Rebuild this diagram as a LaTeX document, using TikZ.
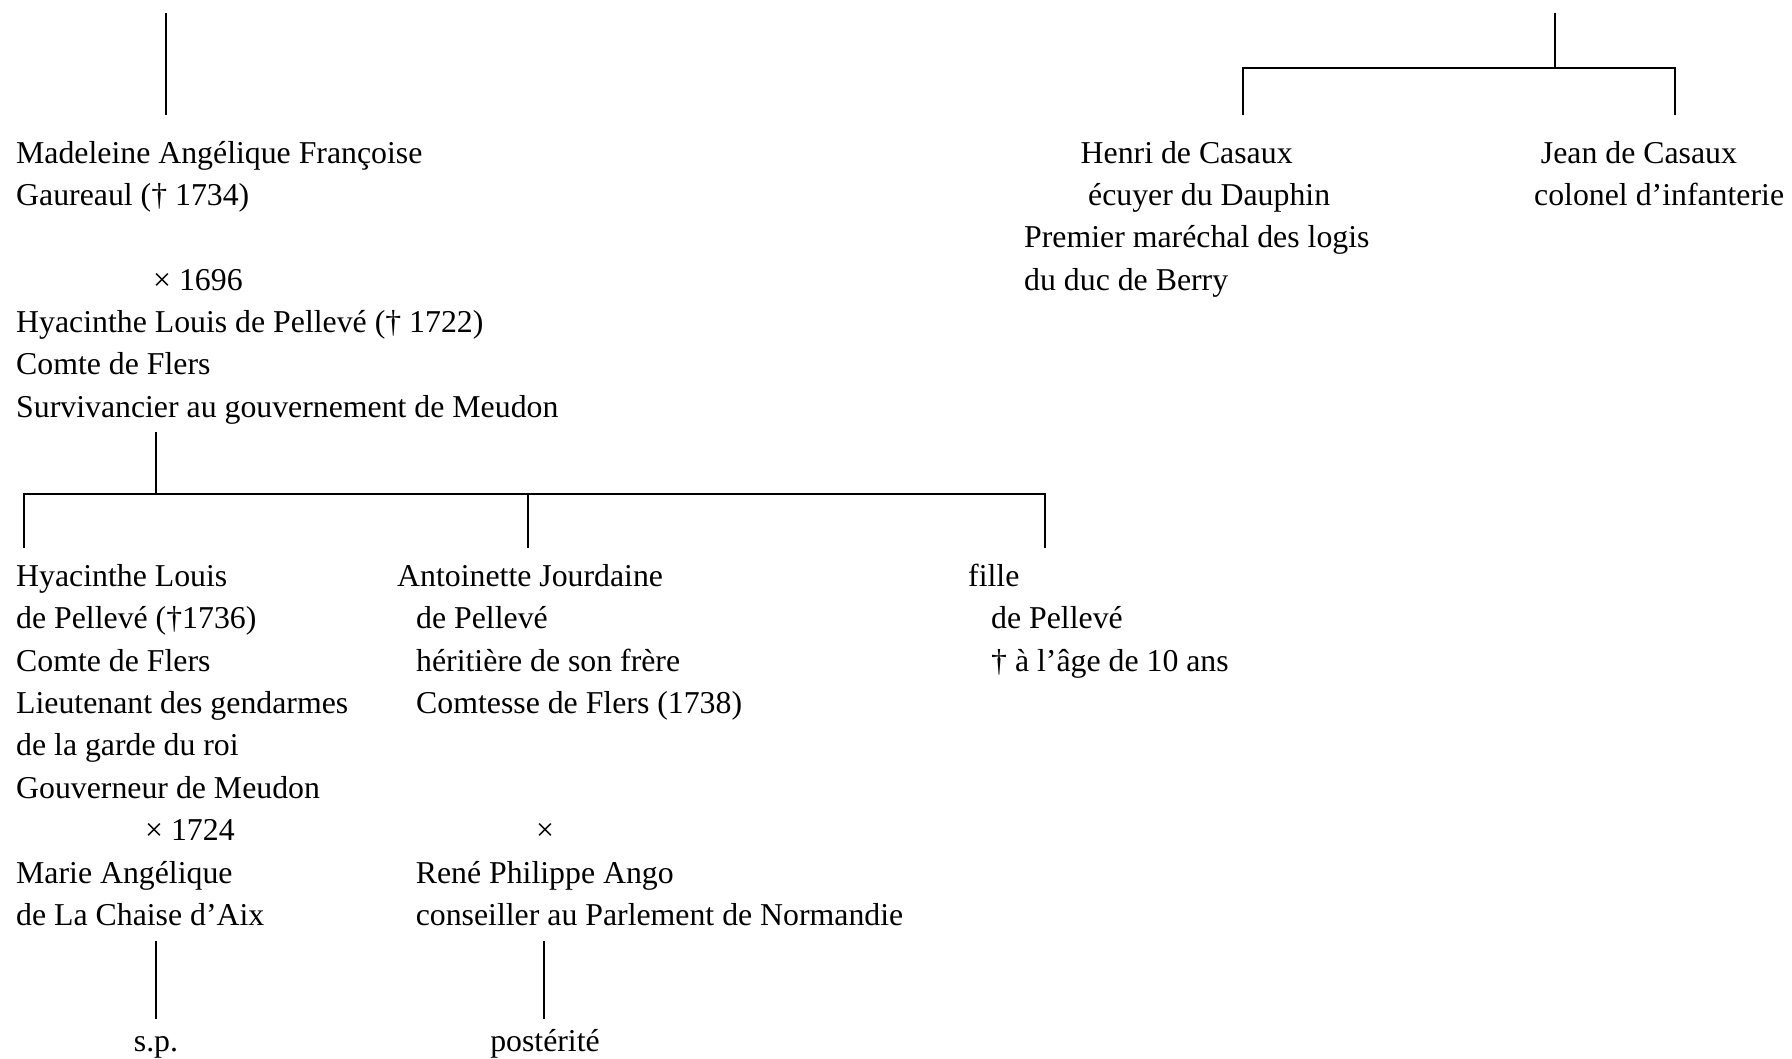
\documentclass[tikz,border=0pt]{standalone}
\usepackage{fontspec}
\setmainfont{Liberation Serif}
\begin{document}
\begin{tikzpicture}[x=1pt,y=-1pt,
  txt/.style={anchor=base west,inner sep=0pt,font=\fontsize{31.8}{38}\selectfont},
  ctxt/.style={anchor=base,inner sep=0pt,font=\fontsize{31.8}{38}\selectfont},
  ln/.style={line width=2pt,line cap=rect}]
\useasboundingbox (0,0) rectangle (1792,1059);
% ---- top left block
\node[txt] (mad1) at (16,163.3) {Madeleine Angélique Françoise};
\node[txt] (mad2) at (16,205.6) {Gaureaul († 1734)};
\node[txt] (mar1) at (153,290.2) {× 1696};
\node[txt] (hy1) at (16,332.5) {Hyacinthe Louis de Pellevé († 1722)};
\node[txt] (hy2) at (16,374.8) {Comte de Flers};
\node[txt] (hy3) at (16,417.1) {Survivancier au gouvernement de Meudon};
% ---- top right block
\node[txt] (he1) at (1080.5,163.3) {Henri de Casaux};
\node[txt] (he2) at (1088,205.6) {écuyer du Dauphin};
\node[txt] (he3) at (1024,247.9) {Premier maréchal des logis};
\node[txt] (he4) at (1024,290.2) {du duc de Berry};
\node[txt] (je1) at (1540.7,163.3) {Jean de Casaux};
\node[txt] (je2) at (1534,205.6) {colonel d’infanterie};
% ---- children column 1
\node[txt] (a1) at (16,586.2) {Hyacinthe Louis};
\node[txt] (a2) at (16,628.6) {de Pellevé (†1736)};
\node[txt] (a3) at (16,671.0) {Comte de Flers};
\node[txt] (a4) at (16,713.4) {Lieutenant des gendarmes};
\node[txt] (a5) at (16,755.8) {de la garde du roi};
\node[txt] (a6) at (16,798.2) {Gouverneur de Meudon};
\node[txt] (a7) at (145,840.6) {× 1724};
\node[txt] (a8) at (16,883.0) {Marie Angélique};
\node[txt] (a9) at (16,925.4) {de La Chaise d’Aix};
% ---- children column 2
\node[txt] (b1) at (397,586.2) {Antoinette Jourdaine};
\node[txt] (b2) at (416,628.6) {de Pellevé};
\node[txt] (b3) at (416,671.0) {héritière de son frère};
\node[txt] (b4) at (416,713.4) {Comtesse de Flers (1738)};
\node[txt] (b5) at (536,840.6) {×};
\node[txt] (b6) at (415.6,883.0) {René Philippe Ango};
\node[txt] (b7) at (415.6,925.4) {conseiller au Parlement de Normandie};
% ---- children column 3
\node[txt] (c1) at (968,586.2) {fille};
\node[txt] (c2) at (991,628.6) {de Pellevé};
\node[txt] (c3) at (991,671.0) {† à l’âge de 10 ans};
% ---- bottom
\node[ctxt] (sp) at (156,1051.5) {s.p.};
\node[ctxt] (post) at (545,1051.5) {postérité};
% ---- coordinates
\coordinate (tlA) at (166,14);
\coordinate (tlB) at (166,114);
\coordinate (pA) at (156,433);
\coordinate (pB) at (156,494);
\coordinate (hL) at (24,494);
\coordinate (hM) at (528,494);
\coordinate (hR) at (1045,494);
\coordinate (dL) at (24,547);
\coordinate (dM) at (528,547);
\coordinate (dR) at (1045,547);
\coordinate (s1A) at (156,942);
\coordinate (s1B) at (156,1018);
\coordinate (s2A) at (544,942);
\coordinate (s2B) at (544,1018);
\coordinate (trA) at (1555,14);
\coordinate (trB) at (1555,68);
\coordinate (trL) at (1243,68);
\coordinate (trR) at (1675,68);
\coordinate (trLd) at (1243,114);
\coordinate (trRd) at (1675,114);
% ---- lines
\draw[ln] (tlA) -- (tlB);
\draw[ln] (pA) -- (pB);
\draw[ln] (dL) -- (hL) -- (hR) -- (dR);
\draw[ln] (hM) -- (dM);
\draw[ln] (s1A) -- (s1B);
\draw[ln] (s2A) -- (s2B);
\draw[ln] (trA) -- (trB);
\draw[ln] (trLd) -- (trL) -- (trR) -- (trRd);
\end{tikzpicture}
\end{document}
